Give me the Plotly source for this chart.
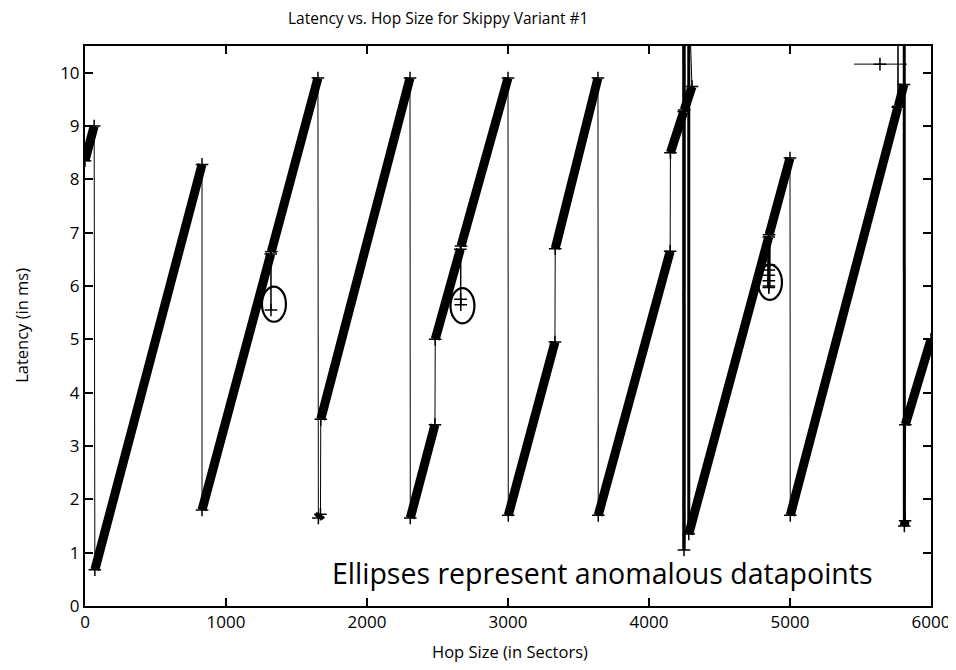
import plotly.graph_objects as go

# ---- data ----
# key points of the measured series, in the order they are connected
path_x = [0, 65, 70, 830, 830, 1317, 1319, 1321, 1652, 1655, 1670, 1672, 2305, 2307,
          2482, 2484, 2662, 2664, 2665, 2667, 3000, 3002, 3333, 3335, 3638, 3640,
          4150, 4152, 4246, 4247, 4248, 4249, 4250, 4305, 4282, 4282, 4849, 4850,
          4852, 5000, 5002, 5764, 5766, 5768, 5808, 5810, 5811, 5816, 5818, 6000]
path_y = [8.35, 9.0, 0.68, 8.28, 1.8, 6.6, 5.55, 6.64, 9.9, 1.65, 1.72, 3.5, 9.9, 1.65,
          3.4, 5.0, 6.69, 5.75, 5.65, 6.75, 9.9, 1.7, 4.95, 6.7, 9.9, 1.7,
          6.65, 8.5, 9.27, 11.5, 1.05, 11.5, 9.3, 9.74, 11.5, 1.35, 6.92, 5.97,
          6.96, 8.4, 1.7, 9.35, 11.5, 9.37, 9.78, 11.5, 1.5, 1.6, 3.4, 5.0]
# how the stretch from point i to point i+1 looks: dense run of samples, single step, or repeated jumps
seg_style = ["band", "thin", "band", "thin", "band", "thin", "thin", "band", "thin", "band",
             "thin", "band", "thin", "band", "thin", "band", "thin", "thin", "thin", "band",
             "thin", "band", "thin", "band", "thin", "band", "thin", "band", "thin", "spike",
             "spike", "thin", "band", "thin", "spike", "band", "spike", "spike", "band", "thin",
             "band", "thin", "thin", "band", "thin", "spike", "band", "thin", "band"]

# extra anomalous samples stacked near hop size 4850
anom_x = [4850, 4850, 4850, 4850, 4850]
anom_y = [6.0, 6.1, 6.2, 6.3, 6.4]

# stray horizontal trace near the top right
stray_x = [5454, 5830]
stray_y = [10.16, 10.16]
stray_pt_x = [5638]
stray_pt_y = [10.16]

# ellipses marking anomalies (centres)
ell_cx = [1340, 2677, 4858]
ell_cy = [5.66, 5.63, 6.07]

x_ticks = [0, 1000, 2000, 3000, 4000, 5000, 6000]
y_ticks = [0, 1, 2, 3, 4, 5, 6, 7, 8, 9, 10]

FONT = "Open Sans"

def collect(style):
    xs, ys = [], []
    for i, s in enumerate(seg_style):
        if s == style:
            xs += [path_x[i], path_x[i + 1], None]
            ys += [path_y[i], path_y[i + 1], None]
    return xs, ys

fig = go.Figure()

bx, by = collect("band")
fig.add_trace(go.Scatter(x=bx, y=by, mode="lines",
                         line=dict(color="black", width=9), hoverinfo="skip"))
sx, sy = collect("spike")
fig.add_trace(go.Scatter(x=sx, y=sy, mode="lines",
                         line=dict(color="black", width=3), hoverinfo="skip"))
fig.add_trace(go.Scatter(x=path_x, y=path_y, mode="lines+markers",
                         line=dict(color="black", width=1),
                         marker=dict(symbol="cross-thin", size=9,
                                     line=dict(color="black", width=1.5))))
fig.add_trace(go.Scatter(x=anom_x, y=anom_y, mode="markers",
                         marker=dict(symbol="cross-thin", size=9,
                                     line=dict(color="black", width=1.5))))
fig.add_trace(go.Scatter(x=stray_x, y=stray_y, mode="lines",
                         line=dict(color="black", width=1)))
fig.add_trace(go.Scatter(x=stray_pt_x, y=stray_pt_y, mode="markers",
                         marker=dict(symbol="cross-thin", size=9,
                                     line=dict(color="black", width=1.5))))

shapes = []
for cx, cy in zip(ell_cx, ell_cy):
    shapes.append(dict(type="circle", xref="x", yref="y",
                       x0=cx - 85, x1=cx + 85, y0=cy - 0.33, y1=cy + 0.33,
                       line=dict(color="black", width=2.2)))

axis_common = dict(showgrid=False, zeroline=False, ticks="inside", ticklen=8,
                   tickwidth=1.5, tickcolor="black", showline=True, linecolor="black",
                   linewidth=2, mirror="ticks", automargin=False,
                   tickfont=dict(family=FONT, size=17, color="black"))

# the page body adds an 8 px offset, so the figure is 8 px smaller on each axis
fig.update_layout(
    width=948, height=662,
    margin=dict(l=77, r=25, t=38, b=64, autoexpand=False),
    paper_bgcolor="white", plot_bgcolor="white",
    showlegend=False,
    shapes=shapes,
    xaxis=dict(range=[0, 6000], tickvals=x_ticks, ticktext=[str(v) for v in x_ticks],
               **axis_common),
    yaxis=dict(range=[0, 10.5], tickvals=y_ticks, ticktext=[str(v) for v in y_ticks],
               **axis_common),
    annotations=[
        dict(text="Latency vs. Hop Size for Skippy Variant #1", xref="paper", yref="paper",
             x=0.417, y=1.05, showarrow=False, xanchor="center", yanchor="middle",
             font=dict(family=FONT, size=15.5, color="black")),
        dict(text="Hop Size (in Sectors)", xref="paper", yref="paper",
             x=0.502, y=-0.082, showarrow=False, xanchor="center", yanchor="middle",
             font=dict(family=FONT, size=16.5, color="black")),
        dict(text="Latency (in ms)", xref="paper", yref="paper",
             x=-0.0745, y=0.502, showarrow=False, xanchor="center", yanchor="middle",
             textangle=-90, font=dict(family=FONT, size=16.5, color="black")),
        dict(text="Ellipses represent anomalous datapoints", xref="paper", yref="paper",
             x=0.612, y=0.059, showarrow=False, xanchor="center", yanchor="middle",
             font=dict(family=FONT, size=28.5, color="black")),
    ],
)

fig.write_html("out.html")
